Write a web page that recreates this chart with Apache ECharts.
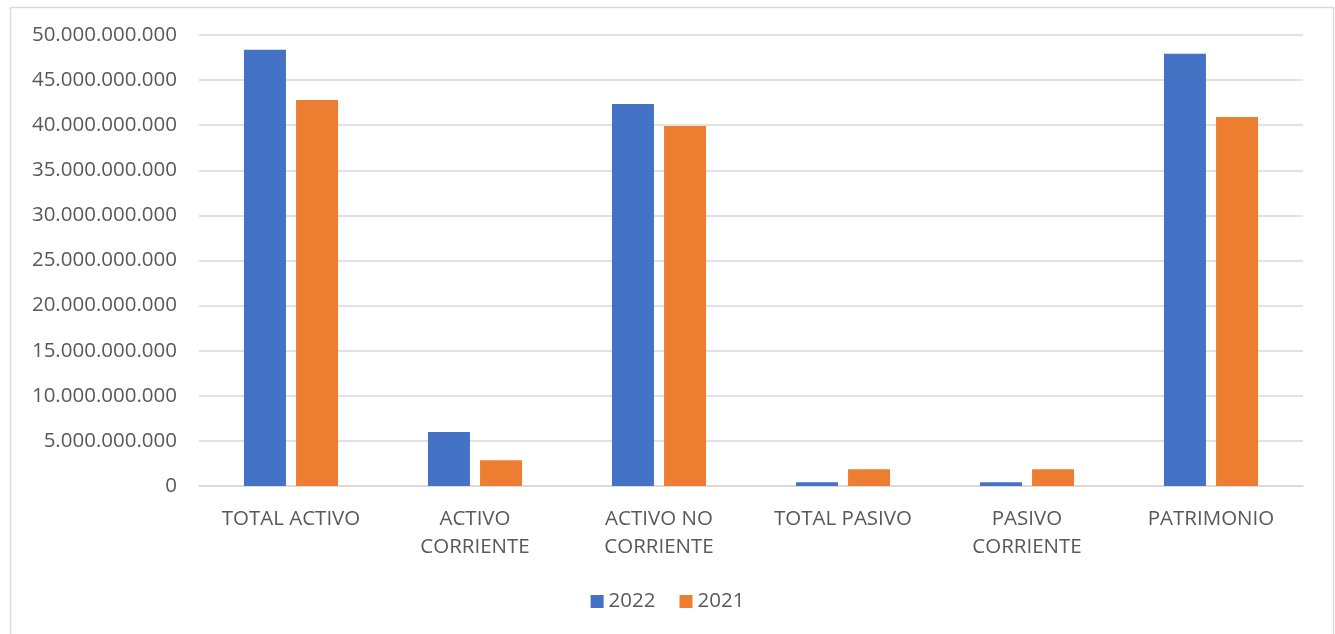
<!DOCTYPE html>
<html>
<head>
<meta charset="utf-8">
<script src="https://cdn.jsdelivr.net/npm/echarts@6/dist/echarts.min.js"></script>
<style>
  html, body { margin: 0; padding: 0; background: #fff; }
  #chart { width: 1335px; height: 634px; }
</style>
</head>
<body>
<div id="chart"></div>
<script>
// categorías y valores
const categories = ['TOTAL ACTIVO', 'ACTIVO\nCORRIENTE', 'ACTIVO NO\nCORRIENTE', 'TOTAL PASIVO', 'PASIVO\nCORRIENTE', 'PATRIMONIO'];
const series2022 = [48370000000, 6000000000, 42350000000, 410000000, 410000000, 47930000000];
const series2021 = [42800000000, 2850000000, 39900000000, 1850000000, 1850000000, 40900000000];
const seriesNames = ['2022', '2021'];

const fontFamily = '"Open Sans", "Noto Sans", sans-serif';
const textColor = '#595959';

// formato con puntos como separador de miles
const fmt = (v) => String(Math.round(v)).replace(/\B(?=(\d{3})+(?!\d))/g, '.');

const chart = echarts.init(document.getElementById('chart'));

const option = {
  animation: false,
  graphic: [
    {
      type: 'rect',
      left: 8,
      top: 5,
      shape: { width: 1323, height: 640 },
      style: { fill: 'none', stroke: '#d9d9d9', lineWidth: 1.5 },
      silent: true
    }
  ],
  grid: {
    left: 199,
    right: 32,
    top: 35,
    bottom: 148
  },
  legend: {
    bottom: 17,
    left: 'center',
    itemWidth: 13,
    itemHeight: 13,
    itemGap: 24,
    icon: 'rect',
    textStyle: { color: textColor, fontSize: 20.5, fontFamily: fontFamily },
    data: seriesNames
  },
  xAxis: {
    type: 'category',
    data: categories,
    axisLine: { lineStyle: { color: '#d9d9d9', width: 1.5 } },
    axisTick: { show: false },
    axisLabel: {
      color: textColor,
      fontSize: 20.5,
      fontFamily: fontFamily,
      lineHeight: 28,
      margin: 19,
      interval: 0
    }
  },
  yAxis: {
    type: 'value',
    min: 0,
    max: 50000000000,
    interval: 5000000000,
    axisLine: { show: false },
    axisTick: { show: false },
    splitLine: { lineStyle: { color: '#d9d9d9', width: 1.5 } },
    axisLabel: {
      color: textColor,
      fontSize: 20.5,
      fontFamily: fontFamily,
      margin: 22,
      formatter: fmt
    }
  },
  series: [
    {
      name: seriesNames[0],
      type: 'bar',
      data: series2022,
      barWidth: 42,
      barGap: '24%',
      itemStyle: { color: '#4472c4' }
    },
    {
      name: seriesNames[1],
      type: 'bar',
      data: series2021,
      barWidth: 42,
      itemStyle: { color: '#ed7d31' }
    }
  ]
};

chart.setOption(option);
</script>
</body>
</html>
